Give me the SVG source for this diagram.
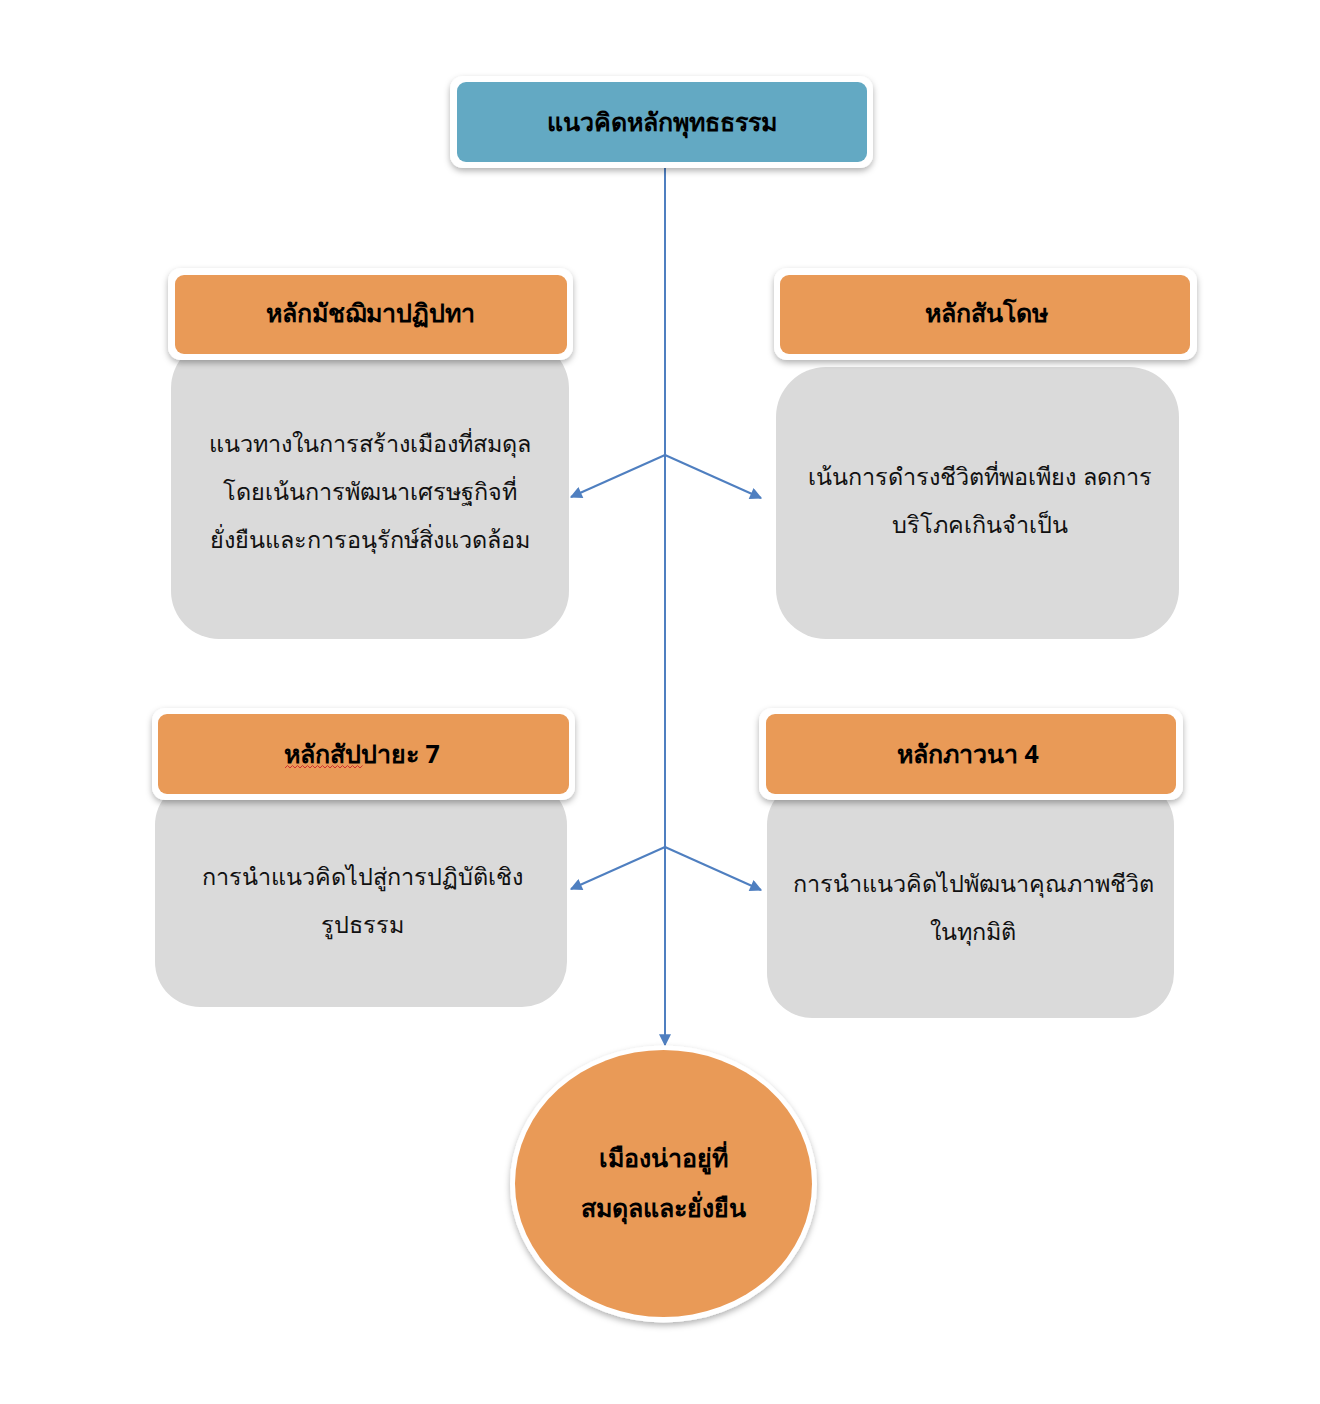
<svg xmlns="http://www.w3.org/2000/svg" width="1320" height="1404" viewBox="0 0 1320 1404">
<defs>
<filter id="sh" x="-10%" y="-20%" width="120%" height="150%">
<feDropShadow dx="0" dy="3" stdDeviation="3" flood-color="#000" flood-opacity="0.3"/>
</filter>
<marker id="ah" viewBox="0 0 10 10" refX="9" refY="5" markerWidth="6.5" markerHeight="6" orient="auto" markerUnits="strokeWidth">
<path d="M0,0 L10,5 L0,10 z" fill="#4F7FC0"/>
</marker>
<style>
.frame{fill:#fff;filter:url(#sh)}
.hdr{fill:#E99A57}
.top{fill:#63A9C3}
.body{fill:#DADADA}
.t{font-family:"Noto Sans","DejaVu Sans",sans-serif;font-size:23.4px;fill:#111;text-anchor:middle}
.b{font-weight:bold;fill:#000;font-size:25px}
.c{fill:none;stroke:#4F7FC0;stroke-width:2}
</style>
</defs>
<rect width="1320" height="1404" fill="#fff"/>

<g id="connectors">
<line class="c" x1="665" y1="168" x2="665" y2="1045" marker-end="url(#ah)"/>
<path class="c" d="M665,455 L571,497" marker-end="url(#ah)"/>
<path class="c" d="M665,455 L761,498" marker-end="url(#ah)"/>
<path class="c" d="M665,847 L571,889" marker-end="url(#ah)"/>
<path class="c" d="M665,847 L761,890" marker-end="url(#ah)"/>
</g>

<g id="node-top">
<rect class="frame" x="450" y="76" width="423" height="92" rx="13"/>
<rect class="top" x="457" y="82" width="410" height="80" rx="9"/>
<text class="t b" x="662" y="131">แนวคิดหลักพุทธธรรม</text>
</g>

<g id="node-madhyama">
<rect class="body" x="171" y="340" width="398" height="299" rx="48"/>
<rect class="frame" x="168" y="268" width="405" height="92" rx="13"/>
<rect class="hdr" x="175" y="275" width="392" height="79" rx="9"/>
<text class="t b" x="370" y="322">หลักมัชฌิมาปฏิปทา</text>
<text class="t" x="370" y="452">แนวทางในการสร้างเมืองที่สมดุล</text>
<text class="t" x="370" y="500">โดยเน้นการพัฒนาเศรษฐกิจที่</text>
<text class="t" x="370" y="548">ยั่งยืนและการอนุรักษ์สิ่งแวดล้อม</text>
</g>

<g id="node-santosa">
<rect class="body" x="776" y="367" width="403" height="272" rx="50"/>
<rect class="frame" x="774" y="268" width="423" height="92" rx="13"/>
<rect class="hdr" x="780" y="275" width="410" height="79" rx="9"/>
<text class="t b" x="986" y="322">หลักสันโดษ</text>
<text class="t" x="980" y="485">เน้นการดำรงชีวิตที่พอเพียง ลดการ</text>
<text class="t" x="980" y="533">บริโภคเกินจำเป็น</text>
</g>

<g id="node-sappaya">
<rect class="body" x="155" y="780" width="412" height="227" rx="45"/>
<rect class="frame" x="152" y="708" width="423" height="92" rx="13"/>
<rect class="hdr" x="158" y="714" width="411" height="80" rx="9"/>
<text class="t b" x="362" y="763">หลักสัปปายะ 7</text>
<path d="M285,768 l2.5,-2.5 l2.5,2.5 l2.5,-2.5 l2.5,2.5 l2.5,-2.5 l2.5,2.5 l2.5,-2.5 l2.5,2.5 l2.5,-2.5 l2.5,2.5 l2.5,-2.5 l2.5,2.5 l2.5,-2.5 l2.5,2.5 l2.5,-2.5 l2.5,2.5 l2.5,-2.5 l2.5,2.5 l2.5,-2.5 l2.5,2.5 l2.5,-2.5 l2.5,2.5 l2.5,-2.5 l2.5,2.5 l2.5,-2.5 l2.5,2.5 l2.5,-2.5 l2.5,2.5 l2.5,-2.5 l2.5,2.5 l2.5,-2.5" fill="none" stroke="#D03030" stroke-width="1"/>
<text class="t" x="362" y="885">การนำแนวคิดไปสู่การปฏิบัติเชิง</text>
<text class="t" x="362" y="933">รูปธรรม</text>
</g>

<g id="node-bhavana">
<rect class="body" x="767" y="780" width="407" height="238" rx="45"/>
<rect class="frame" x="759" y="708" width="424" height="92" rx="13"/>
<rect class="hdr" x="766" y="714" width="410" height="80" rx="9"/>
<text class="t b" x="968" y="763">หลักภาวนา 4</text>
<text class="t" x="973" y="892">การนำแนวคิดไปพัฒนาคุณภาพชีวิต</text>
<text class="t" x="973" y="940">ในทุกมิติ</text>
</g>

<g id="node-goal">
<ellipse class="frame" cx="663.5" cy="1184" rx="153.5" ry="138.5"/>
<ellipse class="hdr" cx="663.5" cy="1183.5" rx="148.5" ry="133.5"/>
<text class="t b" x="663" y="1167">เมืองน่าอยู่ที่</text>
<text class="t b" x="663" y="1217">สมดุลและยั่งยืน</text>
</g>
</svg>
